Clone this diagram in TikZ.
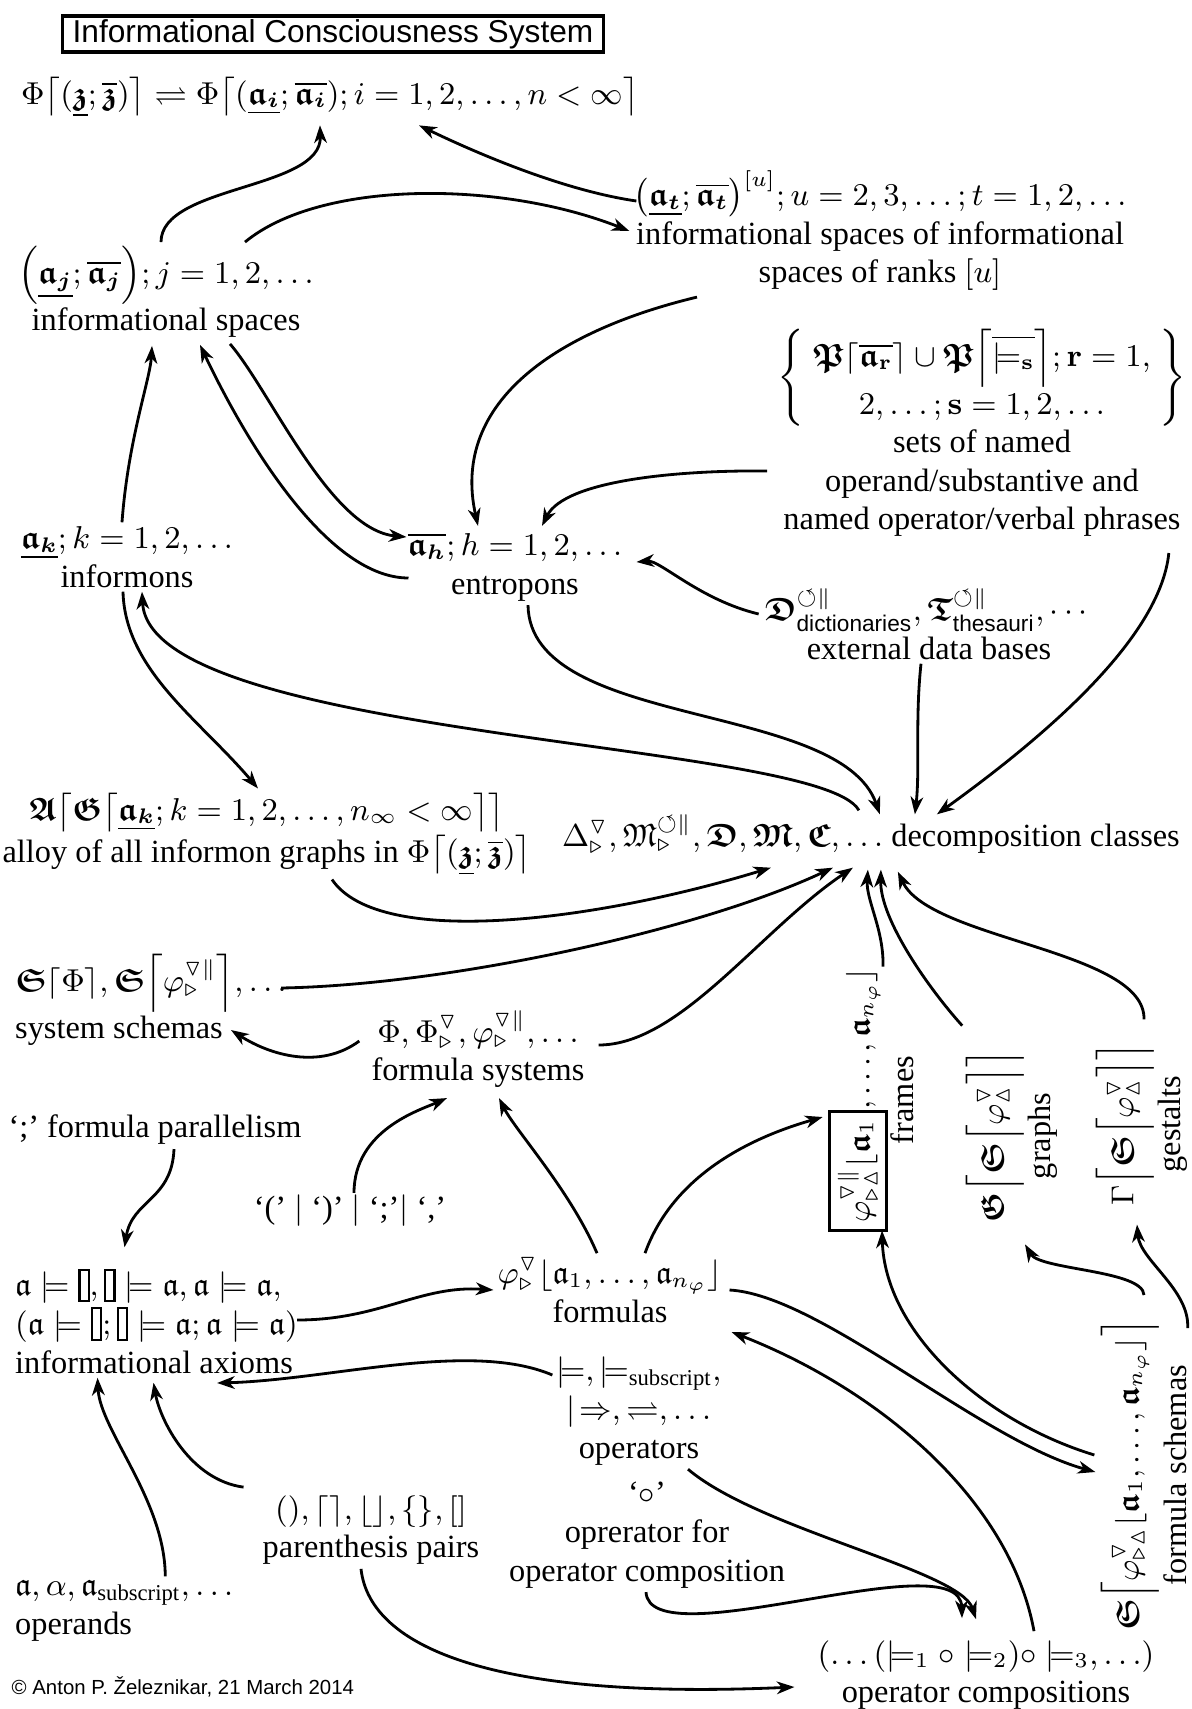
\documentclass[tikz,border=0pt]{standalone}
\usepackage{amsmath,amssymb}
\usepackage[no-math]{fontspec}
\setmainfont{Liberation Serif}
\setsansfont{Liberation Sans}
\usepackage{tikz}
\usetikzlibrary{arrows.meta,calc}
\tikzset{
lbl/.style = {inner sep=1pt, align=center,
              font=\fontsize{9.2}{11}\selectfont},
lblleft/.style = {lbl, align=left},
turned/.style = {lbl, rotate=90},
flow/.style = {-{Stealth[length=5pt,width=3.6pt,inset=1.5pt]},
               line width=0.8pt},
plain/.style = {line width=0.8pt}
}
\newcommand{\ba}{\boldsymbol{\mathfrak{a}}}
\newcommand{\ia}[1]{\ba_{\boldsymbol{#1}}}
\newcommand{\iaU}[1]{\underline{\ia{#1}}}
\newcommand{\iaO}[1]{\overline{\ia{#1}}}
\newcommand{\zU}{\underline{\boldsymbol{\mathfrak{z}}}}
\newcommand{\zO}{\overline{\boldsymbol{\mathfrak{z}}}}
\newcommand{\gfr}[1]{\boldsymbol{\mathfrak{#1}}}
\newcommand{\gsw}{\boldsymbol{\mathfrak{S}}}
\newcommand{\dtri}{\triangledown}
\newcommand{\rtri}{\triangleright}
\newcommand{\utri}{\vartriangle}
\newcommand{\rot}{\circlearrowleft}
\newcommand{\blankop}{\mbox{\setlength\fboxsep{0pt}\setlength\fboxrule{0.6pt}%
  \fbox{\rule[-0.3ex]{0pt}{2ex}\hspace{0.22em}}}}
\newcommand{\barto}{\mathrel{|\mkern-3mu\Rightarrow}}

\begin{document}
\begin{tikzpicture}[x=0.01cm, y=-0.01cm]
\useasboundingbox (0,0) rectangle (1192,1709);
  % Nodes
    \node[draw, line width=0.9pt, inner sep=0pt, minimum width=5.41cm,
          minimum height=0.36cm, font=\sffamily\fontsize{9}{11}\selectfont]
          (title) at (333,34) {Informational Consciousness System};
    \node[lbl] (sys) at (330,97) {$\Phi\bigl\lceil(\zU;\zO)\bigr\rceil
          \rightleftharpoons \Phi\bigl\lceil(\iaU{i};\iaO{i});
          i=1,2,\ldots,n<\infty\bigr\rceil$};
    \node[lbl] (spacesU) at (880,231) {$\bigl(\iaU{t};\iaO{t}\bigr)^{[u]};
          u=2,3,\ldots;t=1,2,\ldots$\\ informational spaces of informational\\
          spaces of ranks $[u]$};
    \node[lbl] (spaces) at (166,292) {$\Bigl(\iaU{j};\iaO{j}\Bigr);
          j=1,2,\ldots$\\ informational spaces};
    \node[lbl] (phrases) at (982,433) {$\left\{\;\begin{array}{@{}c@{}}
          \boldsymbol{\mathfrak{P}}\lceil\overline{\ba_{\mathbf{r}}}\rceil\cup
          \boldsymbol{\mathfrak{P}}\Bigl\lceil\overline{\models_{\mathbf{s}}}\Bigr\rceil;
          \mathbf{r}=1,\\ 2,\ldots;\mathbf{s}=1,2,\ldots\end{array}\;\right\}$\\
          sets of named\\ operand/substantive and\\ named operator/verbal phrases};
    \node[lbl] (informons) at (127,557) {$\iaU{k};k=1,2,\ldots$\\ informons};
    \node[lbl] (entropons) at (515,567) {$\iaO{h};h=1,2,\ldots$\\ entropons};
    \node[lbl] (databases) at (929,624) {$\gfr{D}^{\rot\|}_{\textsf{dictionaries}},
          \gfr{T}^{\rot\|}_{\textsf{thesauri}},\cdots$\\ external data bases};
    \node[lbl] (alloy) at (267,834) {$\gfr{A}\bigl\lceil\gfr{G}\bigl\lceil\iaU{k};
          k=1,2,\ldots,n_\infty<\infty\bigr\rceil\bigr\rceil$\\
          alloy of all informon graphs in $\Phi\bigl\lceil(\zU;\zO)\bigr\rceil$};
    \node[lbl, anchor=east] (classes) at (1184,834) {$\Delta^{\dtri}_{\rtri},
          \mathfrak{M}^{\rot\|}_{\rtri},\gfr{D},\gfr{M},\gfr{C},\ldots$
          decomposition classes};
    \node[lblleft, anchor=west] (sysschemas) at (11,1000)
          {$\gfr{S}\lceil\Phi\rceil,\gfr{S}\Bigl\lceil\varphi^{\dtri\|}_{\rtri}\Bigr\rceil,
          \ldots$\\ system schemas};
    \node[lbl] (fsystems) at (478,1049) {$\Phi,\Phi^{\dtri}_{\rtri},
          \varphi^{\dtri\|}_{\rtri},\ldots$\\ formula systems};
    \node[turned] (frames) at (871,1100) {{\setlength\fboxsep{2pt}\setlength\fboxrule{0.8pt}%
          \fbox{$\varphi^{\dtri\|}_{\rtri\utri}\lfloor\ba_1$}}$,\ldots,
          \ba_{n_\varphi}\rfloor$\\ frames};
    \node[turned] (graphs) at (1012,1136) {$\gfr{G}\Bigl\lceil\gsw
          \Bigl\lceil\varphi^{\dtri}_{\utri}\Bigr\rceil\Bigr\rceil$\\ graphs};
    \node[turned] (gestalts) at (1142,1124) {$\Gamma\Bigl\lceil\gsw
          \Bigl\lceil\varphi^{\dtri}_{\utri}\Bigr\rceil\Bigr\rceil$\\ gestalts};
    \node[lbl] (parallel) at (155,1130) {`;' formula parallelism};
    \node[lbl] (separators) at (350,1211) {`(' $|$ `)' $|$ `;'$|$ `,'};
    \node[lblleft, anchor=west] (axioms) at (11,1321)
          {$\mathfrak{a}\models\blankop,\blankop\models\mathfrak{a},
          \mathfrak{a}\models\mathfrak{a},$\\ $(\mathfrak{a}\models\blankop;
          \blankop\models\mathfrak{a};\mathfrak{a}\models\mathfrak{a})$\\
          informational axioms};
    \node[lbl] (formulas) at (610,1290) {$\varphi^{\dtri}_{\rtri}
          \lfloor\mathfrak{a}_1,\ldots,\mathfrak{a}_{n_\varphi}\rfloor$\\ formulas};
    \node[lbl] (operators) at (639,1411) {$\models,\models_{\text{subscript}},$\\
          $\barto,\rightleftharpoons,\ldots$\\ operators};
    \node[turned] (fschemas) at (1144,1475) {$\gsw\Bigl\lceil
          \varphi^{\dtri}_{\rtri\utri}\lfloor\ba_1,\ldots,\ba_{n_\varphi}\rfloor
          \Bigr\rceil$\\ formula schemas};
    \node[lbl] (compop) at (647,1535) {`$\circ$'\\ oprerator for\\
          operator composition};
    \node[lbl] (parens) at (371,1530) {$(),\lceil\rceil,\lfloor\rfloor,\{\},[]$\\
          parenthesis pairs};
    \node[lblleft, anchor=west] (operands) at (11,1611)
          {$\mathfrak{a},\alpha,\mathfrak{a}_{\text{subscript}},\ldots$\\ operands};
    \node[lbl] (compositions) at (986,1675) {$(\ldots(\models_1\circ\models_2)
          \circ\models_3,\ldots)$\\ operator compositions};
    \node[anchor=west, inner sep=0pt, font=\sffamily\fontsize{5.8}{7}\selectfont]
          (copyright) at (11,1687) {\textcopyright\ Anton P. Železnikar, 21 March 2014};

  % Upper part
    \draw[flow] ($(spaces.north)+(-5,0)$) .. controls (161,185) and (322,190)
          .. ($(sys.south)+(-10,4)$);
    \draw[flow] ($(spaces.north)+(79,0)$) .. controls (320,180) and (500,180)
          .. (spacesU.west);
    \draw[flow] ($(spacesU.west)+(7,-30)$) .. controls (560,190) and (470,150)
          .. ($(sys.south)+(89,4)$);
    \draw[flow] ($(spacesU.south)+(-183,2)$) .. controls (560,330) and (450,400)
          .. ($(entropons.north)+(-37,-3)$);
    \draw[flow] ($(phrases.west)+(-6,38)$) .. controls (680,470) and (565,480)
          .. ($(entropons.north)+(27,-3)$);
    \draw[flow] ($(informons.north)+(-5,0)$) .. controls (128,440) and (150,380)
          .. ($(spaces.south)+(-14,4)$);
    \draw[flow] ($(entropons.west)+(5,11)$) .. controls (330,578) and (250,450)
          .. ($(spaces.south)+(34,3)$);
    \draw[flow] ($(spaces.south)+(64,2)$) .. controls (270,390) and (330,530)
          .. ($(entropons.west)+(3,-30)$);
    \draw[flow] ($(informons.south)+(-4,0)$) .. controls (125,670) and (200,720)
          .. ($(alloy.north)+(-9,0)$);
    \draw[flow] ($(databases.west)+(-2,-10)$) .. controls (700,600) and (660,560)
          .. ($(entropons.east)+(10,-5)$);

  % Into the decomposition classes
    \draw[flow] ($(classes.north)+(-12,0)$) .. controls (820,740) and (150,740)
          .. ($(informons.south)+(15,0)$);
    \draw[flow] ($(entropons.south)+(13,0)$) .. controls (530,730) and (840,700)
          .. ($(classes.north)+(9,4)$);
    \draw[flow] ($(databases.south)+(-8,0)$) .. controls (915,720) and (920,770)
          .. ($(classes.north)+(44,4)$);
    \draw[flow] ($(phrases.south east)+(-22,12)$) .. controls (1160,640) and (1040,740)
          .. ($(classes.north)+(66,4)$);
    \draw[flow] ($(alloy.south)+(65,0)$) .. controls (380,950) and (600,920)
          .. ($(classes.south)+(-100,10)$);
    \draw[flow] ($(sysschemas.east)+(-10,-12)$) .. controls (450,985) and (700,930)
          .. ($(classes.south)+(-38,10)$);
    \draw[flow] ($(fsystems.east)+(10,-4)$) .. controls (680,1045) and (760,930)
          .. ($(classes.south)+(-18,10)$);
    \draw[flow] ($(frames.east)+(12,3)$) .. controls (884,930) and (866,900)
          .. ($(classes.south)+(-3,12)$);
    \draw[flow] ($(graphs.north east)+(0,-20)$) .. controls (930,990) and (880,920)
          .. ($(classes.south)+(10,12)$);
    \draw[flow] ($(gestalts.east)+(2,-19)$) .. controls (1146,950) and (930,940)
          .. ($(classes.south)+(27,14)$);

  % Formulas
    \draw[flow] ($(fsystems.west)+(-8,-8)$) .. controls (320,1070) and (270,1055)
          .. ($(sysschemas.west)+(220,30)$);
    \draw[flow] ($(separators.north)+(4,2)$) .. controls (354,1130) and (420,1110)
          .. ($(fsystems.south)+(-31,6)$);
    \draw[flow] ($(formulas.north)+(-13,0)$) .. controls (570,1190) and (515,1130)
          .. ($(fsystems.south)+(21,6)$);
    \draw[flow] ($(formulas.north)+(35,0)$) .. controls (675,1170) and (760,1135)
          .. ($(frames.north)+(-1,17)$);
    \draw[flow] ($(parallel.south)+(19,0)$) .. controls (172,1200) and (132,1200)
          .. ($(axioms.north)+(-32,-17)$);
    \draw[flow] ($(axioms.east)+(-5,-1)$) .. controls (380,1320) and (420,1285)
          .. (formulas.west);
    \draw[flow] ($(operators.west)+(0,-36)$) .. controls (470,1340) and (330,1380)
          .. ($(axioms.east)+(-85,62)$);
    \draw[flow] ($(operands.north)+(41,0)$) .. controls (165,1500) and (100,1430)
          .. ($(axioms.south)+(-59,0)$);
    \draw[flow] ($(parens.north west)+(-15,-4)$) .. controls (190,1480) and (160,1420)
          .. ($(axioms.south)+(-3,5)$);

  % Operator compositions and schemas
    \draw[flow] ($(parens.south)+(-10,0)$) .. controls (370,1650) and (500,1700)
          .. ($(compositions.west)+(-19,12)$);
    \draw[flow] ($(operators.south)+(49,0)$) .. controls (760,1530) and (960,1570)
          .. ($(compositions.north)+(-10,-17)$);
    \draw[flow] ($(compop.south)+(-1,0)$) .. controls (650,1660) and (960,1540)
          .. ($(compositions.north)+(-24,-18)$);
    \draw[flow] ($(compositions.north)+(48,-5)$) .. controls (1010,1500) and (880,1390)
          .. ($(formulas.east)+(5,42)$);
    \draw[flow] ($(formulas.east)+(3,0)$) .. controls (820,1295) and (980,1440)
          .. ($(fschemas.north)+(-2,-3)$);
    \draw[flow] ($(fschemas.north)+(-3,-20)$) .. controls (980,1420) and (885,1330)
          .. ($(frames.west)+(11,-6)$);
    \draw[flow] ($(fschemas.east)+(0,-20)$) .. controls (1143,1270) and (1040,1270)
          .. ($(graphs.west)+(13,18)$);
    \draw[flow] ($(fschemas.south east)+(-3,13)$) .. controls (1190,1290) and (1140,1260)
          .. ($(gestalts.west)+(-5,15)$);
\end{tikzpicture}
\end{document}
